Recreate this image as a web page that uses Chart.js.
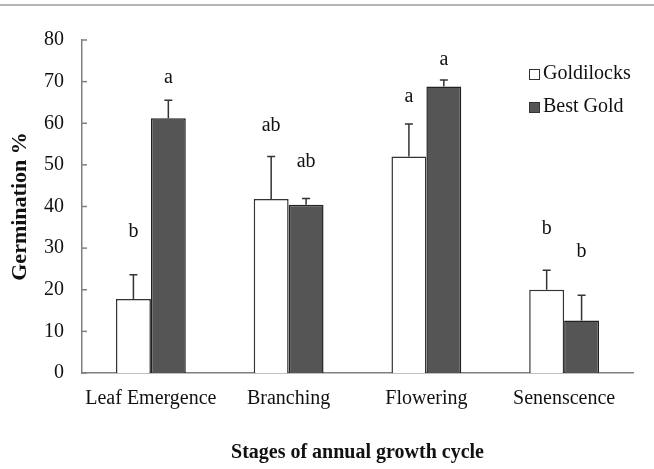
<!DOCTYPE html>
<html>
<head>
<meta charset="utf-8">
<script src="https://cdn.jsdelivr.net/npm/chart.js@4.4.0/dist/chart.umd.min.js"></script>
<style>
html, body { margin: 0; padding: 0; background: #fff; }
#wrap { position: relative; width: 654px; height: 469px; }
#topline { position: absolute; left: 0; top: 4px; width: 654px; height: 2px; background: #b4b4b4; }
canvas { display: block; }
</style>
</head>
<body>
<div id="wrap">
  <div id="topline"></div>
  <canvas id="chart" width="654" height="469"></canvas>
</div>
<script>
const stages = ["Leaf Emergence", "Branching", "Flowering", "Senenscence"];
const goldilocks = [17.8, 41.8, 52.0, 20.0];
const goldilocksErr = [5.8, 10.2, 7.8, 4.7];
const bestGold = [61.2, 40.4, 68.8, 12.6];
const bestGoldErr = [4.3, 1.5, 1.6, 6.1];
const goldilocksLetters = ["b", "ab", "a", "b"];
const bestGoldLetters = ["a", "ab", "a", "b"];
// height (in % units) where each significance letter sits
const goldilocksLetterAt = [34, 59.4, 66.3, 34.6];
const bestGoldLetterAt = [70.9, 50.8, 75.2, 29.1];

const serif = "'Liberation Serif', 'Times New Roman', serif";
const errors = [goldilocksErr, bestGoldErr];
const letters = [goldilocksLetters, bestGoldLetters];
const letterAt = [goldilocksLetterAt, bestGoldLetterAt];

const extras = {
  id: "extras",
  afterDatasetsDraw(chart) {
    const ctx = chart.ctx;
    const y = chart.scales.y;
    ctx.save();
    chart.data.datasets.forEach((ds, i) => {
      const meta = chart.getDatasetMeta(i);
      meta.data.forEach((bar, j) => {
        const top = y.getPixelForValue(ds.data[j] + errors[i][j]);
        ctx.strokeStyle = "#333";
        ctx.lineWidth = 1.5;
        ctx.beginPath();
        ctx.moveTo(bar.x, bar.y);
        ctx.lineTo(bar.x, top);
        ctx.moveTo(bar.x - 4, top);
        ctx.lineTo(bar.x + 4, top);
        ctx.stroke();

        ctx.fillStyle = "#111";
        ctx.font = "20px " + serif;
        ctx.textAlign = "center";
        ctx.textBaseline = "middle";
        ctx.fillText(letters[i][j], bar.x, y.getPixelForValue(letterAt[i][j]));
      });
    });

    // inward tick marks on the y axis
    const left = chart.chartArea.left;
    ctx.strokeStyle = "#808080";
    ctx.lineWidth = 1.5;
    y.ticks.forEach(t => {
      const py = y.getPixelForValue(t.value);
      ctx.beginPath();
      ctx.moveTo(left, py);
      ctx.lineTo(left + 5, py);
      ctx.stroke();
    });

    // legend
    const lx = 529, ly = [74, 107];
    chart.data.datasets.forEach((ds, i) => {
      ctx.fillStyle = ds.backgroundColor;
      ctx.strokeStyle = "#333";
      ctx.lineWidth = 1;
      ctx.fillRect(lx, ly[i] - 5, 10, 10);
      ctx.strokeRect(lx + 0.5, ly[i] - 4.5, 10, 10);
      ctx.fillStyle = "#111";
      ctx.font = "20px " + serif;
      ctx.textAlign = "left";
      ctx.textBaseline = "middle";
      ctx.fillText(ds.label, lx + 14, ly[i]);
    });
    ctx.restore();
  }
};

new Chart(document.getElementById("chart"), {
  type: "bar",
  data: {
    labels: stages,
    datasets: [
      {
        label: "Goldilocks",
        data: goldilocks,
        backgroundColor: "#ffffff",
        borderColor: "#333333",
        borderWidth: 1.5
      },
      {
        label: "Best Gold",
        data: bestGold,
        backgroundColor: "#555555",
        borderColor: "#222222",
        borderWidth: 1.5
      }
    ]
  },
  options: {
    responsive: false,
    animation: false,
    devicePixelRatio: 1,
    categoryPercentage: 0.507,
    barPercentage: 1,
    layout: { padding: { top: 40, right: 21, left: 0, bottom: 0 } },
    plugins: {
      legend: { display: false },
      tooltip: { enabled: false }
    },
    scales: {
      x: {
        grid: { display: false, drawTicks: false },
        border: { display: true, color: "#808080", width: 1.5 },
        ticks: { color: "#111", font: { family: serif, size: 20 }, padding: 14, maxRotation: 0 },
        title: {
          display: true,
          text: "Stages of annual growth cycle",
          color: "#111",
          font: { family: serif, size: 20, weight: "bold" },
          padding: { top: 0, bottom: 4 }
        },
        afterFit(scale) { scale.height = 96; }
      },
      y: {
        min: 0,
        max: 80,
        grid: { display: false, drawTicks: false },
        border: { display: true, color: "#808080", width: 1.5 },
        ticks: { stepSize: 10, color: "#111", font: { family: serif, size: 20 }, padding: 18 },
        title: {
          display: true,
          text: "Germination %",
          color: "#111",
          font: { family: serif, size: 22, weight: "bold" },
          padding: { top: 7, bottom: 0 }
        },
        afterFit(scale) { scale.width = 82; }
      }
    }
  },
  plugins: [extras]
});
</script>
</body>
</html>
